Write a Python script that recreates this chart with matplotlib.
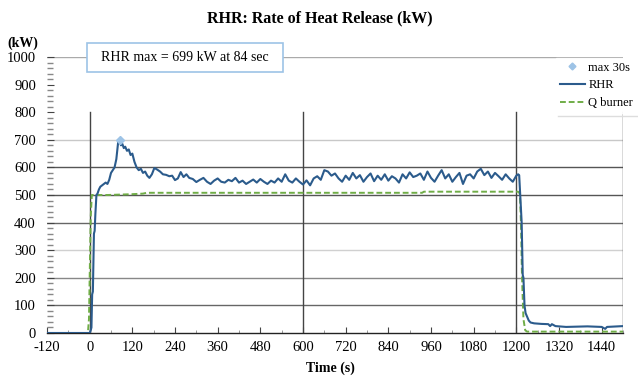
import matplotlib
matplotlib.use("Agg")
import matplotlib.pyplot as plt
from matplotlib.patches import Rectangle
from matplotlib.lines import Line2D

plt.rcParams['font.family'] = ['Liberation Serif', 'DejaVu Serif']

title = "RHR: Rate of Heat Release (kW)"
annotation = "RHR max = 699 kW at 84 sec"

# RHR series (time s, kW)
rhr_t = [-120, -60, 0, 3, 5, 7, 9, 12, 14, 16, 19, 22, 26, 30, 35, 40, 45, 50, 55, 60,
         65, 70, 75, 80, 84, 88, 92, 96, 100, 105, 110, 115, 120, 126, 132, 138, 144,
         150, 156, 162, 168, 175, 182, 190, 198, 206, 215, 224, 232, 240, 248, 256,
         264, 272, 280, 290, 300, 310, 320, 330, 340, 350,
         360, 370, 380, 390, 400, 410, 420, 430, 440, 450, 460, 470, 480, 490, 500,
         510, 520, 530, 540, 550, 560, 570, 580, 590, 600, 610, 620, 630, 640, 650,
         660, 670, 680, 690, 700, 710, 720, 730, 740, 750, 760, 770, 780, 790, 800,
         810, 820, 830, 840, 850, 860, 870, 880, 890, 900, 910, 920, 930, 940, 950,
         960, 970, 980, 990, 1000, 1010, 1020, 1030, 1040, 1050, 1060, 1070, 1080,
         1090, 1100, 1110, 1120, 1130, 1140, 1150, 1160, 1170, 1180, 1190, 1200,
         1205, 1208, 1212, 1215, 1218, 1220, 1223, 1226, 1230, 1235, 1240, 1250,
         1270, 1290, 1295, 1300, 1310, 1340, 1400, 1440, 1450, 1455, 1500]
rhr_v = [0, 0, 0, 10, 20, 140, 150, 360, 370, 430, 500, 505, 520, 530, 535, 540, 545, 540, 555, 580,
         590, 600, 630, 690, 699, 680, 685, 670, 675, 660, 665, 645, 650, 620, 600, 590, 595,
         580, 585, 570, 562, 575, 598, 592, 585, 575, 573, 568, 570, 554, 560, 583,
         565, 575, 562, 558, 547, 555, 562, 548, 540, 552,
         560, 548, 545, 555, 550, 562, 545, 552, 540, 548, 556, 545, 558, 548, 540,
         552, 545, 560, 548, 575, 552, 545, 560, 548, 538, 553, 535, 560, 568, 555,
         590, 585, 570, 578, 560, 548, 570, 555, 580, 560, 572, 548, 565, 578, 550,
         570, 555, 575, 552, 568, 560, 545, 575, 560, 582, 565, 570, 578, 555, 585,
         562, 548, 570, 590, 560, 575, 548, 565, 580, 540, 570, 575, 560,
         585, 595, 572, 585, 562, 580, 568, 555, 575, 560, 548, 570,
         575, 572, 470, 400, 210, 200, 100, 72, 60, 45, 38, 35,
         33, 32, 25, 32, 25, 22, 24, 22, 15, 22, 25]

# Q burner series
q_t = [-120, -5, -2, 0, 3, 6, 10, 50, 120, 150, 160, 935, 940, 1205, 1210, 1213, 1216, 1220, 1225, 1230, 1500]
q_v = [0, 0, 50, 200, 420, 500, 500, 500, 503, 505, 508, 508, 512, 512, 505, 400, 200, 50, 10, 5, 5]

# peak (max 30s)
peak_t = [84]
peak_v = [699]

xticks = [-120, 0, 120, 240, 360, 480, 600, 720, 840, 960, 1080, 1200, 1320, 1440]
yticks = [0, 100, 200, 300, 400, 500, 600, 700, 800, 900, 1000]

W, H = 638, 381
fig = plt.figure(figsize=(W / 100, H / 100), dpi=100)
ax = fig.add_axes([47 / W, 1 - 333 / H, (623 - 47) / W, (333 - 57) / H])
ax.set_xlim(-120, 1500)
ax.set_ylim(0, 1000)

# horizontal gridlines
hcol = {100: '#666666', 200: '#888888', 300: '#d0d0d0', 400: '#666666', 500: '#555555',
        600: '#555555', 700: '#c8c8c8', 1000: '#aaaaaa'}
for yv, c in hcol.items():
    ax.axhline(yv, color=c, lw=1.0, zorder=1)
# vertical gridlines
for xv in [0, 600, 1200, 1500]:
    ax.axvline(xv, ymin=0, ymax=0.80, color='#444444', lw=1.0, zorder=1)

ax.plot(q_t, q_v, color='#70AD47', lw=1.4, ls=(0, (3, 1.5)), zorder=3, label='Q burner')
ax.plot(rhr_t, rhr_v, color='#2B5B8C', lw=1.5, zorder=4, label='RHR')
ax.plot(peak_t, peak_v, ls='none', marker='D', ms=4, color='#9DC3E6', zorder=5, label='max 30s')

for s in ['left', 'right', 'top']:
    ax.spines[s].set_visible(False)
ax.spines['bottom'].set_color('#222222')
ax.spines['bottom'].set_linewidth(1.0)

ax.set_xticks(xticks)
ax.set_xticks(range(-120, 1501, 60), minor=True)
ax.set_yticks(yticks)
ax.set_yticks(range(0, 1001, 20), minor=True)
ax.tick_params(axis='x', which='major', direction='in', length=4, color='#444444', labelsize=10.5, pad=6)
ax.tick_params(axis='x', which='minor', direction='in', length=2, color='#888888')
ax.tick_params(axis='y', which='major', direction='in', length=5, color='#444444', labelsize=10.5, pad=8)
ax.tick_params(axis='y', which='minor', direction='in', length=4, color='#888888', width=1.0)
ax.set_xticklabels([str(v) for v in xticks])
ax.set_yticklabels([str(v) for v in yticks])

fig.text(320 / W, 1 - 18 / H, title, ha='center', va='center', fontsize=11.5, fontweight='bold')
fig.text(23 / W, 1 - 43 / H, '(kW)', ha='center', va='center', fontsize=10, fontweight='bold')
fig.text(330 / W, 1 - 368 / H, 'Time (s)', ha='center', va='center', fontsize=10, fontweight='bold')

# annotation box
fig.patches.append(Rectangle((87 / W, 1 - 72 / H), (283 - 87) / W, (72 - 43) / H,
                             transform=fig.transFigure, facecolor='white',
                             edgecolor='#9DC3E6', lw=1.2, zorder=10))
fig.text(185 / W, 1 - 57.5 / H, annotation, ha='center', va='center', fontsize=10, zorder=11)

# legend
handles = [Line2D([], [], ls='none', marker='D', ms=3.5, color='#9DC3E6'),
           Line2D([], [], color='#2B5B8C', lw=1.5),
           Line2D([], [], color='#70AD47', lw=1.4, ls=(0, (3, 1.5)))]
leg = fig.legend(handles, ['max 30s', 'RHR', 'Q burner'], loc='upper left',
                 bbox_to_anchor=(556 / W, 1 - 58 / H), frameon=True, fontsize=9,
                 handlelength=2.0, handletextpad=0.3, borderpad=0.3, labelspacing=0.45,
                 borderaxespad=0, fancybox=False)
leg.get_frame().set_edgecolor('white')
leg.get_frame().set_facecolor('white')
leg.set_zorder(10)
fig.lines.append(Line2D([558 / W, 1.0], [1 - 116 / H, 1 - 116 / H], transform=fig.transFigure,
                        color='#dddddd', lw=1.0))

fig.savefig('out.png', dpi=100, facecolor='white')
